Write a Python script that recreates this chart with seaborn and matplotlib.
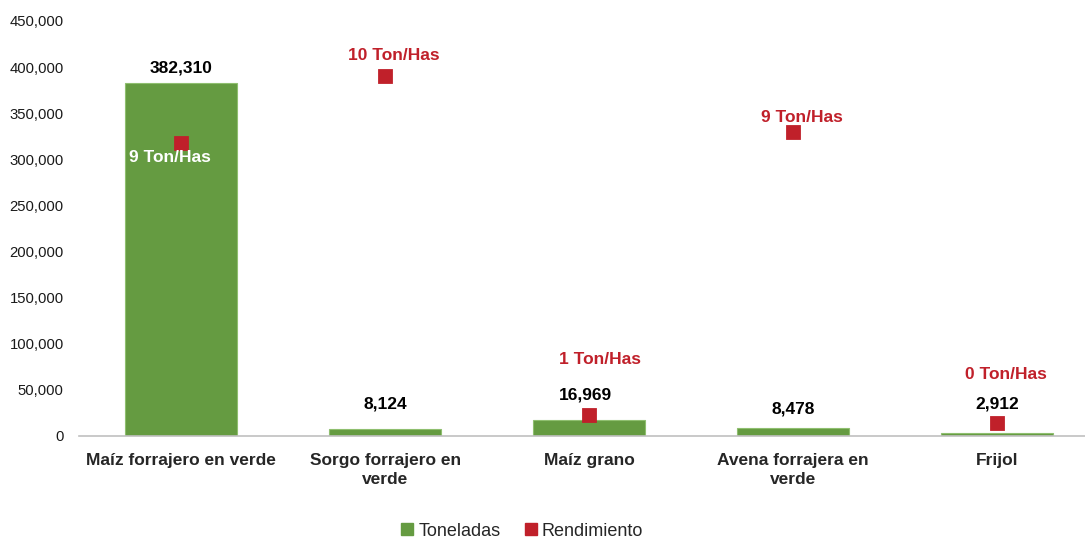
import numpy as np
import pandas as pd
import seaborn as sns
import matplotlib.pyplot as plt
from matplotlib.lines import Line2D
from matplotlib.ticker import FuncFormatter

# datos
cultivos = ['Maíz forrajero en verde', 'Sorgo forrajero en\nverde', 'Maíz grano',
            'Avena forrajera en\nverde', 'Frijol']
toneladas = [382310, 8124, 16969, 8478, 2912]
rendimiento = [8.52, 10.45, 0.61, 8.84, 0.38]

verde = '#659b41'
rojo = '#c0202a'

# desplazamientos de etiquetas (puntos)
off_ton = [(0, 11), (0, 18), (-3, 18), (0, 14), (0, 21)]
off_rend = [(-8, -11), (6, 15), (8, 40), (6, 10), (6, 35)]
col_rend = ['white', rojo, rojo, rojo, rojo]

sns.set_style('white')
plt.rcParams['font.family'] = ['Liberation Sans', 'DejaVu Sans']

fig = plt.figure(figsize=(10.85, 5.38), dpi=100)
ax = fig.add_axes([0.0728, 0.1896, 0.9272, 0.7714])

df = pd.DataFrame({'cultivo': cultivos, 'ton': toneladas, 'rend': rendimiento})
sns.barplot(data=df, x='cultivo', y='ton', color=verde, saturation=1, width=0.55,
            edgecolor='#8fbf6f', linewidth=0.8, ax=ax)

ax.set_ylim(0, 450000)
ax.set_yticks(np.arange(0, 450001, 50000))
ax.yaxis.set_major_formatter(FuncFormatter(lambda v, p: f'{int(v):,}'))
ax.set_xlabel('')
ax.set_ylabel('')
ax.tick_params(axis='y', length=0, pad=11, labelsize=10.7, colors='#1a1a1a')
ax.tick_params(axis='x', length=0, pad=12)
for lab in ax.get_xticklabels():
    lab.set_fontsize(12.5)
    lab.set_fontweight('bold')
    lab.set_linespacing(1.35)
for s in ['left', 'right', 'top']:
    ax.spines[s].set_visible(False)
ax.spines['bottom'].set_color('#c0c0c0')
ax.spines['bottom'].set_linewidth(1.2)

for i, v in enumerate(toneladas):
    ax.annotate(f'{v:,}', (i, v), xytext=off_ton[i], textcoords='offset points',
                ha='center', va='center', fontsize=12.5, fontweight='bold', color='black')

ax2 = ax.twinx()
sns.pointplot(data=df, x='cultivo', y='rend', ax=ax2, color=rojo, markers='s',
              linestyles='none', markersize=8.5, errorbar=None)
ax2.set_ylim(0, 12.05)
ax2.set_yticks([])
ax2.set_ylabel('')
ax2.set_xlabel('')
for s in ['left', 'right', 'top', 'bottom']:
    ax2.spines[s].set_visible(False)

for i, v in enumerate(rendimiento):
    ax2.annotate(f'{v:.0f} Ton/Has', (i, v), xytext=off_rend[i], textcoords='offset points',
                 ha='center', va='center', fontsize=12.5, fontweight='bold', color=col_rend[i])

ax.set_xlim(-0.5, 4.43)
ax2.set_xlim(-0.5, 4.43)

handles = [Line2D([], [], marker='s', linestyle='none', color=verde, markersize=8),
           Line2D([], [], marker='s', linestyle='none', color=rojo, markersize=8)]
fig.legend(handles, ['Toneladas', 'Rendimiento'], loc='center', bbox_to_anchor=(0.48, 0.013),
           ncol=2, frameon=False, fontsize=13, handletextpad=0.1, columnspacing=1.2,
           handlelength=1.0)

plt.savefig('out.png', dpi=100)
